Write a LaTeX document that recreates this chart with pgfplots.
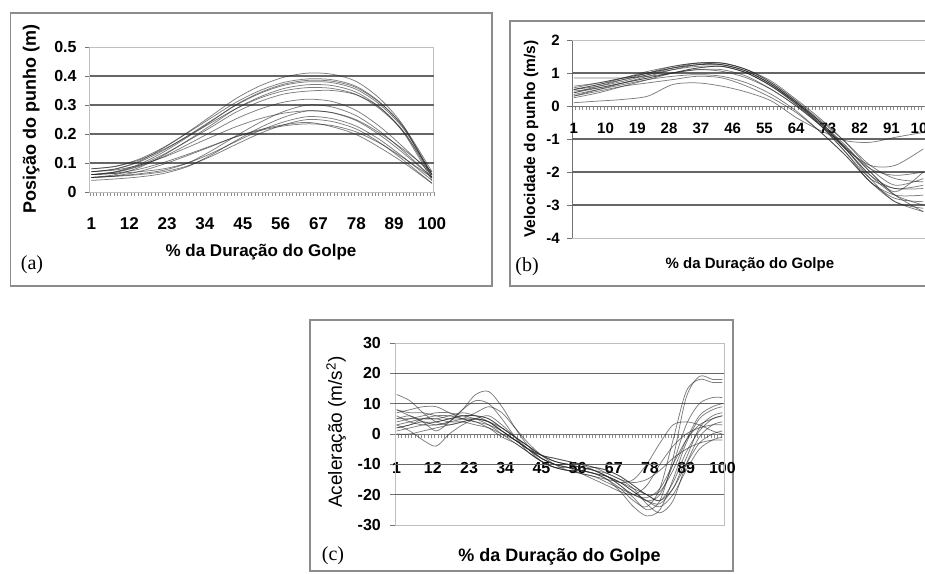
\documentclass[border=0pt]{standalone}
\usepackage{fontspec}
\setmainfont{Liberation Sans}
\newfontfamily\serifletter{Liberation Serif}
\usepackage{pgfplots}
\usepackage{pgfplotstable}
\pgfplotsset{compat=1.18}

% Panel (a): wrist position (m)
\pgfplotstableread{
x A1 A2 A3 A4 A5 A6 A7 A8 A9 A10 A11 A12 A13 A14 A15
1 0.070 0.080 0.060 0.070 0.050 0.080 0.060 0.060 0.050 0.070 0.040 0.060 0.050 0.050 0.060
8 0.080 0.089 0.070 0.079 0.060 0.088 0.069 0.068 0.055 0.076 0.045 0.064 0.054 0.056 0.065
15 0.107 0.114 0.096 0.104 0.085 0.111 0.092 0.089 0.063 0.093 0.052 0.070 0.060 0.071 0.079
22 0.152 0.154 0.138 0.144 0.127 0.147 0.130 0.122 0.075 0.120 0.064 0.080 0.070 0.096 0.102
29 0.206 0.204 0.190 0.194 0.178 0.192 0.176 0.164 0.100 0.154 0.088 0.100 0.090 0.126 0.130
36 0.264 0.257 0.245 0.247 0.232 0.240 0.225 0.208 0.143 0.190 0.129 0.134 0.124 0.158 0.160
43 0.322 0.309 0.301 0.299 0.287 0.287 0.275 0.252 0.193 0.225 0.177 0.174 0.164 0.191 0.190
50 0.366 0.350 0.343 0.340 0.328 0.324 0.312 0.286 0.240 0.253 0.222 0.212 0.202 0.215 0.212
57 0.396 0.378 0.372 0.368 0.357 0.349 0.338 0.310 0.278 0.272 0.258 0.242 0.232 0.232 0.228
64 0.410 0.390 0.385 0.380 0.370 0.360 0.348 0.320 0.300 0.280 0.280 0.260 0.250 0.240 0.235
71 0.406 0.387 0.382 0.377 0.367 0.357 0.350 0.312 0.293 0.274 0.273 0.253 0.243 0.225 0.229
78 0.381 0.364 0.360 0.354 0.344 0.336 0.335 0.281 0.263 0.249 0.246 0.227 0.217 0.198 0.207
85 0.320 0.308 0.306 0.300 0.290 0.285 0.290 0.224 0.208 0.202 0.195 0.179 0.169 0.152 0.167
92 0.223 0.218 0.221 0.214 0.204 0.204 0.200 0.151 0.138 0.144 0.131 0.117 0.107 0.099 0.115
100 0.050 0.060 0.070 0.060 0.050 0.060 0.040 0.060 0.050 0.070 0.050 0.040 0.030 0.030 0.050
}\tabA

% Panel (b): wrist velocity (m/s)
\pgfplotstableread{
x B1 B2 B3 B4 B5 B6 B7 B8 B9 B10 B11 B12 B13 B14
1 0.50 0.30 0.40 0.60 0.25 0.50 0.45 0.85 0.10 0.35 0.50 0.30 0.55 0.40
8 0.65 0.50 0.60 0.70 0.40 0.60 0.55 0.85 0.15 0.50 0.65 0.45 0.70 0.55
15 0.80 0.70 0.80 0.85 0.60 0.75 0.70 0.85 0.20 0.65 0.85 0.60 0.85 0.70
22 0.95 0.90 1.00 1.00 0.80 0.95 0.85 0.90 0.30 0.80 1.05 0.70 1.00 0.85
29 1.10 1.10 1.20 1.15 1.00 1.15 1.00 1.00 0.65 0.90 1.20 0.80 1.15 1.00
36 1.20 1.25 1.30 1.25 1.15 1.30 1.10 1.10 0.70 0.95 1.30 0.90 1.25 1.15
43 1.20 1.30 1.25 1.25 1.20 1.30 1.05 1.10 0.60 0.90 1.30 0.85 1.25 1.20
50 1.00 1.10 1.05 1.05 1.00 1.10 0.85 0.90 0.42 0.70 1.10 0.60 1.05 1.00
57 0.60 0.70 0.65 0.65 0.60 0.70 0.50 0.50 0.15 0.35 0.75 0.25 0.65 0.60
64 0.10 0.15 0.10 0.10 0.05 0.15 0.00 0.00 -0.35 -0.15 0.20 -0.20 0.10 0.05
71 -0.50 -0.50 -0.55 -0.60 -0.60 -0.45 -0.60 -0.60 -0.75 -0.80 -0.40 -0.80 -0.50 -0.55
78 -1.30 -1.20 -1.30 -1.40 -1.40 -1.10 -1.30 -1.25 -1.05 -1.50 -1.10 -1.50 -1.25 -1.30
85 -2.10 -2.00 -2.20 -2.30 -2.20 -1.80 -1.80 -1.90 -1.10 -2.30 -1.90 -2.30 -2.00 -2.10
92 -2.70 -2.70 -2.90 -2.70 -2.50 -2.20 -1.80 -2.10 -0.95 -2.80 -2.40 -2.90 -2.60 -2.50
100 -3.00 -3.20 -3.10 -2.70 -2.50 -2.30 -1.30 -2.00 -0.80 -2.90 -2.20 -3.20 -2.00 -2.40
}\tabB

% Panel (c): acceleration (m/s^2)
\pgfplotstableread{
x C1 C2 C3 C4 C5 C6 C7 C8 C9 C10 C11 C12 C13 C14
1 13 2 5 3 7 8 4 1 6 2 0 3 5 8
5 11 3 6 1 8 7 5 2 4 3 0 4 5 6
9 7 4 4 -2 9 7 6 3 3 5 1 5 5 4
13 4 3 1 -4 9 6 7 4 3 6 2 5 5 4
17 3 4 4 0 7 5 7 5 4 6 3 4 6 5
21 4 8 8 3 5 5 6 6 5 5 4 4 7 6
25 5 13 11 5 4 5 5 6 7 4 5 3 6 6
29 4 14 10 6 3 4 3 5 9 2 4 2 4 5
33 1 9 5 3 1 1 0 2 7 -1 2 0 1 2
37 -2 2 -1 -1 -2 -2 -3 -1 2 -3 -1 -2 -2 -1
41 -5 -4 -6 -5 -5 -5 -6 -4 -3 -6 -4 -5 -5 -4
45 -8 -8 -9 -9 -7 -8 -9 -7 -7 -9 -7 -7 -8 -7
49 -10 -10 -11 -11 -9 -10 -11 -9 -10 -11 -8 -8 -10 -9
53 -11 -10 -11 -12 -10 -11 -12 -10 -12 -12 -9 -9 -11 -10
57 -12 -11 -12 -12 -11 -13 -13 -11 -13 -12 -10 -10 -12 -10
61 -13 -12 -13 -13 -12 -15 -14 -12 -14 -11 -11 -12 -13 -11
65 -14 -14 -15 -15 -14 -17 -15 -13 -16 -12 -13 -14 -14 -12
69 -16 -17 -18 -19 -17 -19 -16 -15 -18 -14 -15 -16 -16 -14
73 -19 -21 -22 -24 -20 -20 -18 -16 -20 -17 -18 -15 -19 -17
77 -22 -25 -24 -27 -21 -17 -20 -15 -22 -20 -23 -10 -22 -20
81 -20 -22 -18 -25 -18 -10 -22 -12 -23 -19 -26 -3 -24 -22
85 -10 -8 -2 -15 -10 -4 -18 -8 -18 -12 -22 3 -20 -16
89 3 12 14 -3 -2 0 -10 -5 -8 -2 -10 4 -12 -6
93 10 19 18 5 3 2 -3 -3 2 6 -1 3 -5 1
97 12 18 17 8 5 3 0 -2 6 9 3 1 -2 5
100 12 18 17 9 6 3 1 -2 7 10 4 0 -1 6
}\tabC

\pgfplotsset{
  excel/.style={
    scale only axis, anchor=south west, clip=false,
    xmin=0.5, xmax=100.5,
    axis x line*=middle, axis y line*=left,
    axis line style={draw=black!55, line width=0.9pt},
    minor xtick={0.5,1.5,...,100.5},
    minor tick length=4pt, major tick length=5pt,
    tick align=outside,
    major x tick style={draw=none},
    minor x tick style={draw=black!45, line width=0.4pt},
    major y tick style={draw=black!55, line width=0.9pt},
  },
  curve/.style={draw=black!85, opacity=0.6, line width=0.75pt, smooth, mark=none},
}
\tikzset{
  gridl/.style={draw=black!60, line width=1.1pt},
  pborder/.style={draw=black!25, line width=0.9pt},
}

\begin{document}
\begin{tikzpicture}
\useasboundingbox (0,0) rectangle (925pt,573pt);
\draw[black!45, line width=1.1pt] (10.6pt,287pt) rectangle (492pt,560pt);
\draw[black!45, line width=1.1pt] (925pt,552pt) -- (510pt,552pt) -- (510pt,287pt) -- (925pt,287pt);
\draw[black!45, line width=1.1pt] (310pt,2pt) rectangle (733pt,253pt);

% ---------------- (a)
\begin{axis}[excel,
  at={(89.7pt,381pt)}, width=344pt, height=145pt,
  ymin=0, ymax=0.5,
  ytick={0,0.1,0.2,0.3,0.4,0.5}, yticklabels={0,0.1,0.2,0.3,0.4,0.5},
  xtick={1,12,23,34,45,56,67,78,89,100},
  xticklabels={1,12,23,34,45,56,67,78,89,100},
  xticklabel style={font=\fontsize{17}{19}\selectfont\bfseries, anchor=center, yshift=-27pt},
  yticklabel style={font=\fontsize{16}{18}\selectfont\bfseries, anchor=east, inner sep=0pt, xshift=-8pt},
  every axis x label/.style={at={(axis description cs:0.498,-0.414)}, anchor=center, font=\fontsize{17}{19}\selectfont\bfseries},
  every axis y label/.style={at={(axis description cs:-0.170,0.503)}, rotate=90, anchor=center, font=\fontsize{18}{20}\selectfont\bfseries},
  xlabel={\% da Duração do Golpe},
  ylabel={Posição do punho (m)},
]
\draw[pborder] (rel axis cs:0,0) rectangle (rel axis cs:1,1);
\pgfplotsinvokeforeach{0.1,0.2,0.3,0.4}{\draw[gridl] (axis cs:0.5,#1) -- (axis cs:100.5,#1);}
\pgfplotsinvokeforeach{1,...,15}{\addplot[curve] table[x=x,y=A#1]{\tabA};}
\end{axis}

% ---------------- (b)
\begin{axis}[excel,
  at={(572pt,335pt)}, width=353pt, height=198pt,
  ymin=-4, ymax=2,
  ytick={-4,-3,-2,-1,0,1,2}, yticklabels={-4,-3,-2,-1,0,1,2},
  xtick={1,10,19,28,37,46,55,64,73,82,91,100},
  xticklabels={1,10,19,28,37,46,55,64,73,82,91,100},
  xticklabel style={font=\fontsize{15}{17}\selectfont\bfseries, anchor=center, yshift=-17pt},
  yticklabel style={font=\fontsize{15}{17}\selectfont\bfseries, anchor=east, inner sep=0pt, xshift=-7pt},
  every axis x label/.style={at={(axis description cs:0.504,-0.136)}, anchor=center, font=\fontsize{15}{17}\selectfont\bfseries},
  every axis y label/.style={at={(axis description cs:-0.116,0.5)}, rotate=90, anchor=center, font=\fontsize{15.5}{17}\selectfont\bfseries},
  xlabel={\% da Duração do Golpe},
  ylabel={Velocidade do punho (m/s)},
]
\draw[pborder] (rel axis cs:1,0) -- (rel axis cs:0,0) (rel axis cs:0,1) -- (rel axis cs:1,1);
\pgfplotsinvokeforeach{-3,-2,-1,1}{\draw[gridl] (axis cs:0.5,#1) -- (axis cs:100.5,#1);}
\pgfplotsinvokeforeach{1,...,14}{\addplot[curve] table[x=x,y=B#1]{\tabB};}
\end{axis}

% ---------------- (c)
\begin{axis}[excel,
  at={(395pt,48pt)}, width=329pt, height=182pt,
  ymin=-30, ymax=30,
  ytick={-30,-20,-10,0,10,20,30}, yticklabels={-30,-20,-10,0,10,20,30},
  xtick={1,12,23,34,45,56,67,78,89,100},
  xticklabels={1,12,23,34,45,56,67,78,89,100},
  xticklabel style={font=\fontsize{16}{18}\selectfont\bfseries, anchor=center, yshift=-29pt},
  yticklabel style={font=\fontsize{16}{18}\selectfont\bfseries, anchor=east, inner sep=0pt, xshift=-9pt},
  every axis x label/.style={at={(axis description cs:0.50,-0.176)}, anchor=center, font=\fontsize{18}{20}\selectfont\bfseries},
  every axis y label/.style={at={(axis description cs:-0.179,0.511)}, rotate=90, anchor=center, font=\fontsize{19}{21}\selectfont},
  xlabel={\% da Duração do Golpe},
  ylabel={Aceleração (m/s\textsuperscript{2})},
]
\draw[pborder] (rel axis cs:0,0) rectangle (rel axis cs:1,1);
\pgfplotsinvokeforeach{-20,-10,10,20}{\draw[gridl] (axis cs:0.5,#1) -- (axis cs:100.5,#1);}
\pgfplotsinvokeforeach{1,...,14}{\addplot[curve] table[x=x,y=C#1]{\tabC};}
\end{axis}

\node[font=\serifletter\fontsize{20}{22}\selectfont] at (32pt,308pt) {(a)};
\node[font=\serifletter\fontsize{20}{22}\selectfont] at (527pt,306pt) {(b)};
\node[font=\serifletter\fontsize{20}{22}\selectfont] at (333pt,17pt) {(c)};
\end{tikzpicture}
\end{document}
